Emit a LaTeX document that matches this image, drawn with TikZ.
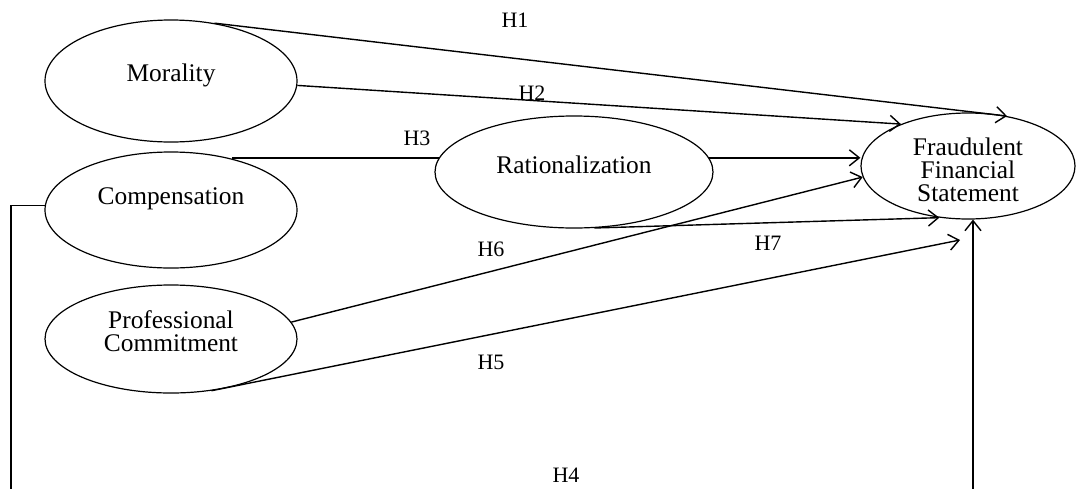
\documentclass[tikz,border=0pt]{standalone}
\usepackage{fontspec}
\setmainfont{Liberation Serif}
\usetikzlibrary{arrows.meta,shapes.geometric}

\begin{document}
\begin{tikzpicture}[
    x=0.5pt, y=-0.5pt,
    >={Straight Barb[length=5pt,width=8pt]},
    construct/.style={draw, ellipse, line width=0.6pt, inner sep=0pt,
      font=\fontsize{12.7}{11.5}\selectfont, align=center},
    hyp/.style={font=\fontsize{11}{13}\selectfont},
    arw/.style={->, line width=0.7pt},
    link/.style={line width=0.7pt},
  ]
    \useasboundingbox (0,0) rectangle (1077,488);

    % Independent constructs
    \node[construct, minimum width=126pt, minimum height=61pt, text depth=8.8pt] (mor) at (171,81) {Morality};
    \node[construct, minimum width=126pt, minimum height=58pt, text depth=13.8pt] (com) at (171,210) {Compensation};
    \node[construct, minimum width=126pt, minimum height=54pt, text depth=7.5pt] (prof) at (171,339) {Professional\\Commitment};

    % Mediator and outcome
    \node[construct, minimum width=139pt, minimum height=56pt, text depth=7.1pt] (rat) at (574,172) {Rationalization};
    \node[construct, minimum width=107pt, minimum height=53pt, text height=35.3pt] (fra) at (968,166) {Fraudulent\\Financial\\Statement};

    % Hypothesis labels
    \node[hyp] (h1) at (515,20) {H1};
    \node[hyp] (h2) at (532,93) {H2};
    \node[hyp] (h3) at (417,138) {H3};
    \node[hyp] (h6) at (491,249) {H6};
    \node[hyp] (h7) at (768,243) {H7};
    \node[hyp] (h5) at (491,362) {H5};
    \node[hyp] (h4) at (566,475) {H4};

    % Paths
    \draw[arw] (mor.53) -- (fra.52);
    \draw[arw] (mor.-2) -- (fra.148);
    \draw[link] (com.40 |- rat.174) -- (rat.174);
    \draw[arw] (rat.6) -- (rat.6 -| fra.west);
    \draw[arw] (prof.8) -- (fra.186);
    \draw[arw] (rat.-70) -- (fra.241);

    \coordinate (h5e) at (960,240);
    \draw[arw] (prof.-52) -- (h5e);

    % Direct path along the bottom
    \coordinate (lb) at (11,492);
    \coordinate (rb) at (973,492);
    \draw[arw] (com.178) -| (lb) -- (rb) -- (rb |- fra.south);

  \end{tikzpicture}
\end{document}
